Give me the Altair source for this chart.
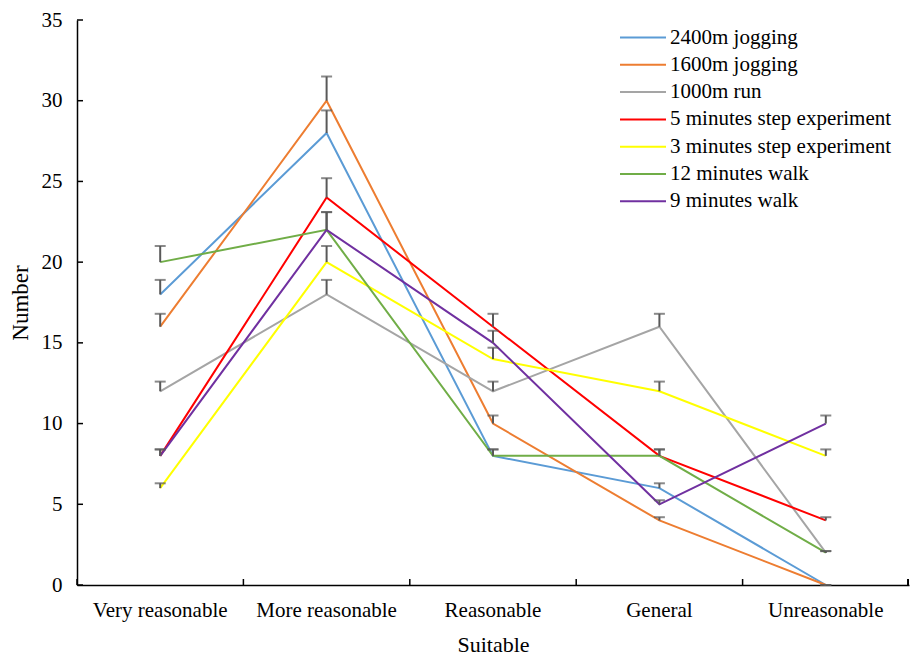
import altair as alt
import pandas as pd

categories = ["Very reasonable", "More reasonable", "Reasonable", "General", "Unreasonable"]
series = ["2400m jogging", "1600m jogging", "1000m run", "5 minutes step experiment",
          "3 minutes step experiment", "12 minutes walk", "9 minutes walk"]
colors = ["#5B9BD5", "#ED7D31", "#A5A5A5", "#FF0000", "#FFFF00", "#70AD47", "#7030A0"]

v_2400_jog = [18, 28, 8, 6, 0]
v_1600_jog = [16, 30, 10, 4, 0]
v_1000_run = [12, 18, 12, 16, 2]
v_5min_step = [8, 24, 16, 8, 4]
v_3min_step = [6, 20, 14, 12, 8]
v_12min_walk = [20, 22, 8, 8, 2]
v_9min_walk = [8, 22, 15, 5, 10]

e_2400_jog = [0.9, 1.4, 0.4, 0.3, 0.0]
e_1600_jog = [0.8, 1.5, 0.5, 0.2, 0.0]
e_1000_run = [0.6, 0.9, 0.6, 0.8, 0.1]
e_5min_step = [0.4, 1.2, 0.8, 0.4, 0.2]
e_3min_step = [0.3, 1.0, 0.7, 0.6, 0.4]
e_12min_walk = [1.0, 1.1, 0.4, 0.4, 0.1]
e_9min_walk = [0.4, 1.1, 0.75, 0.25, 0.5]

y_ticks = [0, 5, 10, 15, 20, 25, 30, 35]

values = [v_2400_jog, v_1600_jog, v_1000_run, v_5min_step, v_3min_step, v_12min_walk, v_9min_walk]
errors = [e_2400_jog, e_1600_jog, e_1000_run, e_5min_step, e_3min_step, e_12min_walk, e_9min_walk]

rows = []
for s, vals, errs in zip(series, values, errors):
    for c, v, e in zip(categories, vals, errs):
        rows.append({"category": c, "series": s, "value": v, "top": v + e})
df = pd.DataFrame(rows)
cat_df = pd.DataFrame({"category": categories})
tick_df = pd.DataFrame({"tick": y_ticks})

W, H = 832, 565
FONT = "Liberation Serif"

xscale = alt.Scale(type="band", domain=categories, paddingInner=0, paddingOuter=0)
yscale = alt.Scale(domain=[0, 35], nice=False)

x_enc = alt.X("category:N", scale=xscale, sort=categories,
              axis=alt.Axis(title="Suitable", labelAngle=0, ticks=False, labelPadding=14,
                            titlePadding=14, labelFontSize=21, titleFontSize=22,
                            titleFontWeight="normal", labelColor="black", titleColor="black",
                            domainColor="black", domainWidth=1.5))
y_enc = alt.Y("value:Q", scale=yscale,
              axis=alt.Axis(title="Number", values=y_ticks, ticks=False, grid=False,
                            labelPadding=15, titlePadding=9, labelFontSize=21, titleFontSize=23,
                            titleFontWeight="normal", labelColor="black", titleColor="black",
                            domainColor="black", domainWidth=1.5))

lines = alt.Chart(df).mark_line(strokeWidth=2).encode(
    x=x_enc,
    y=y_enc,
    color=alt.Color("series:N", scale=alt.Scale(domain=series, range=colors),
                    sort=series,
                    legend=alt.Legend(title=None, orient="none", legendX=553.5, legendY=5,
                                      symbolType="M-2,0H2", symbolSize=529, symbolStrokeWidth=2,
                                      labelFontSize=21, labelFont=FONT, labelColor="black",
                                      labelOffset=14.5, rowPadding=4.3, padding=0,
                                      labelLimit=400)),
    order=alt.Order("cat_order:Q"),
).transform_calculate(
    cat_order="indexof(" + str(categories) + ", datum.category)"
)

err_rules = alt.Chart(df).mark_rule(color="#595959", strokeWidth=2).encode(
    x=alt.X("category:N", scale=xscale, sort=categories),
    y=alt.Y("value:Q", scale=yscale),
    y2="top:Q",
)
err_caps = alt.Chart(df).mark_tick(color="#595959", thickness=2, size=11, orient="horizontal").encode(
    x=alt.X("category:N", scale=xscale, sort=categories),
    y=alt.Y("top:Q", scale=yscale),
)

x_ticks = alt.Chart(cat_df).mark_rule(color="black", strokeWidth=1.5).encode(
    x=alt.X("category:N", scale=xscale, sort=categories, bandPosition=0),
    y=alt.value(H - 6),
    y2=alt.value(H),
)
x_tick_end = alt.Chart(cat_df).mark_rule(color="black", strokeWidth=1.5).encode(
    x=alt.value(W - 0.75),
    y=alt.value(H - 6),
    y2=alt.value(H),
)
y_tick_marks = alt.Chart(tick_df).mark_rule(color="black", strokeWidth=1.5).encode(
    y=alt.Y("tick:Q", scale=yscale),
    x=alt.value(0),
    x2=alt.value(6),
)

chart = alt.layer(lines, err_rules, err_caps, x_ticks, x_tick_end, y_tick_marks).properties(
    width=W, height=H,
    autosize=alt.AutoSizeParams(type="none"),
    padding={"left": 69, "top": 12, "right": 2, "bottom": 71},
).configure(
    font=FONT,
).configure_view(
    stroke=None,
).configure_axis(
    labelFont=FONT, titleFont=FONT,
)

chart.save("out.html", embed_options={"renderer": "svg", "actions": False})
